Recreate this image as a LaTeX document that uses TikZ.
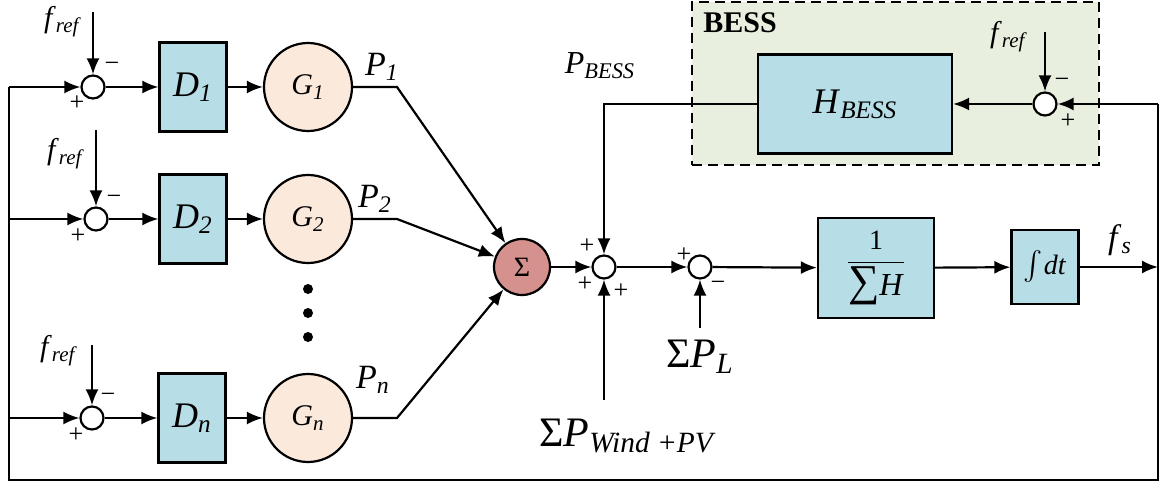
\documentclass[tikz,border=0pt]{standalone}
\usepackage{amsmath}
\usepackage{fontspec}
\setmainfont{Liberation Serif}
\usetikzlibrary{arrows.meta}
\definecolor{boxblue}{HTML}{B7DDE6}
\definecolor{genpeach}{HTML}{FBE9DC}
\definecolor{sigred}{HTML}{D4918D}
\definecolor{bessgreen}{HTML}{E9EFDE}
\newcommand{\fsz}[1]{\fontsize{#1}{#1}\selectfont}
\newcommand{\isub}[2]{\textit{#1}\textsubscript{\textit{#2}}}
\tikzset{
  blk/.style={draw, fill=boxblue, inner sep=0pt},
  dblk/.style={blk, minimum width=33.5pt, minimum height=44.5pt},
  sumc/.style={circle, draw, fill=white, minimum size=11.5pt, inner sep=0pt},
  gen/.style={circle, draw, fill=genpeach, minimum size=44pt, inner sep=0pt},
  sigc/.style={circle, draw, fill=sigred, minimum size=28pt, inner sep=0pt},
  arr/.style={-{Latex[length=8pt,width=6.5pt]}},
  sgn/.style={inner sep=0pt, font=\fsz{13}},
  lab/.style={inner sep=0pt, font=\fsz{15}},
  big/.style={inner sep=0pt, font=\fsz{21}},
  dot/.style={circle, fill=black, minimum size=5pt, inner sep=0pt}
}
\begin{document}
\begin{tikzpicture}[x=0.5pt,y=-0.5pt,line width=1.1pt]
\useasboundingbox (0,0) rectangle (1161,485);
% BESS frame
\node[draw, dash pattern=on 5pt off 3pt, fill=bessgreen, minimum width=203.5pt, minimum height=81.5pt, inner sep=0pt] (bess) at (895.5,83.5) {};
\node[inner sep=0pt, font=\bfseries\fsz{15}] (besslab) at (740,23) {BESS};

% generator rows
\node[sumc] (s1) at (93,87) {};
\node[dblk] (d1) at (193,87) {\fsz{18}\isub{D}{1}};
\node[gen] (g1) at (308,87) {\fsz{15}\isub{G}{1}};
\node[sumc] (s2) at (96,219) {};
\node[dblk] (d2) at (193,219) {\fsz{18}\isub{D}{2}};
\node[gen] (g2) at (308,219) {\fsz{15}\isub{G}{2}};
\node[sumc] (sn) at (92,418) {};
\node[dblk] (dn) at (192,418) {\fsz{18}\isub{D}{n}};
\node[gen] (gn) at (308,418) {\fsz{15}\isub{G}{n}};
\node[dot] (dt1) at (308,289) {};
\node[dot] (dt2) at (308,313) {};
\node[dot] (dt3) at (308,337) {};

% f_ref inputs
\node[lab] (fr1) at (63,22) {\isub{f}{ref}};
\node[lab] (fr2) at (66,154) {\isub{f}{ref}};
\node[lab] (frn) at (59,351) {\isub{f}{ref}};
\node[lab] (frb) at (1009,37) {\isub{f}{ref}};
\coordinate (fa1) at (93,12);
\coordinate (fa2) at (96,130);
\coordinate (fan) at (92,345);
\coordinate (fab) at (1045,32);

% signs
\node[sgn] (m1) at (112,67) {−};
\node[sgn] (p1) at (77,103) {+};
\node[sgn] (m2) at (114,200) {−};
\node[sgn] (p2) at (78,236) {+};
\node[sgn] (mn) at (108,398) {−};
\node[sgn] (pn) at (76,435) {+};

% summation and main chain
\node[sigc] (sig) at (522,267) {\fsz{14}Σ};
\node[sumc] (sa) at (604,267) {};
\node[sumc] (sb) at (700,267) {};
\node[blk, minimum width=58pt, minimum height=50pt] (hh) at (876,268) {\fsz{14}$\displaystyle\frac{\mbox{1}}{\mbox{\fsz{22}∑\fsz{16}\textit{H}}}$};
\node[blk, minimum width=33.5pt, minimum height=37pt] (ii) at (1045,267) {\fsz{14}$\int$\kern0.5pt\textit{dt}};
\node[blk, minimum width=97pt, minimum height=49.5pt] (hb) at (855,104) {\fsz{18}\isub{H}{BESS}};
\node[sumc] (sbe) at (1045,104) {};

\node[sgn] (pa1) at (587,246) {+};
\node[sgn] (pa2) at (585,284) {+};
\node[sgn] (pa3) at (621,291) {+};
\node[sgn] (pb1) at (684,255) {+};
\node[sgn] (mb1) at (718,286) {−};
\node[sgn] (mbe) at (1062,83) {−};
\node[sgn] (pbe) at (1068,121) {+};

% labels
\node[lab, font=\fsz{17}] (lp1) at (382,67) {\isub{P}{1}};
\node[lab, font=\fsz{17}] (lp2) at (375,199) {\isub{P}{2}};
\node[lab, font=\fsz{17}] (lpn) at (373,380) {\isub{P}{n}};
\node[lab, font=\fsz{16}] (lpb) at (600,66) {\isub{P}{BESS}};
\node[big] (lpl) at (700,357) {Σ\isub{P}{L}};
\node[big] (lpw) at (628,436) {Σ\isub{P}{Wind +PV}};
\node[lab, font=\fsz{17}] (lfs) at (1120,240) {\isub{f}{s}};

% corner coordinates
\coordinate (k1) at (397,87);
\coordinate (k2) at (397,219);
\coordinate (kn) at (397,418);
\coordinate (kb) at (604,104);
\coordinate (wi) at (604,400);
\coordinate (li) at (700,328);
\coordinate (rr) at (1158,267);
\coordinate (rt) at (1158,104);
\coordinate (rb) at (1158,480);
\coordinate (lb) at (9,480);
\coordinate (lt) at (9,87);
\coordinate (l2) at (9,219);
\coordinate (ln) at (9,418);

% connectors
\draw[arr] (fa1) -- (s1.north);
\draw[arr] (fa2) -- (s2.north);
\draw[arr] (fan) -- (sn.north);
\draw[arr] (fab) -- (sbe.north);
\draw[arr] (lt) -- (s1.west);
\draw[arr] (l2) -- (s2.west);
\draw[arr] (ln) -- (sn.west);
\draw[arr] (s1) -- (d1);
\draw[arr] (s2) -- (d2);
\draw[arr] (sn) -- (dn);
\draw[arr] (d1) -- (g1);
\draw[arr] (d2) -- (g2);
\draw[arr] (dn) -- (gn);
\draw[arr] (g1.east) -- (k1) -- (sig);
\draw[arr] (g2.east) -- (k2) -- (sig);
\draw[arr] (gn.east) -- (kn) -- (sig);
\draw[arr] (sig) -- (sa);
\draw[arr] (sa) -- (sb);
\draw[arr] (sb) -- (hh);
\draw[arr] (hh) -- (ii);
\draw[arr] (ii) -- (rr);
\draw[arr] (hb.west) -- (kb) -- (sa.north);
\draw[arr] (wi) -- (sa.south);
\draw[arr] (li) -- (sb.south);
\draw[arr] (sbe) -- (hb.east);
\draw (rt) -- (rb) -- (lb) -- (lt);
\draw[arr] (rt) -- (sbe.east);
\end{tikzpicture}
\end{document}
